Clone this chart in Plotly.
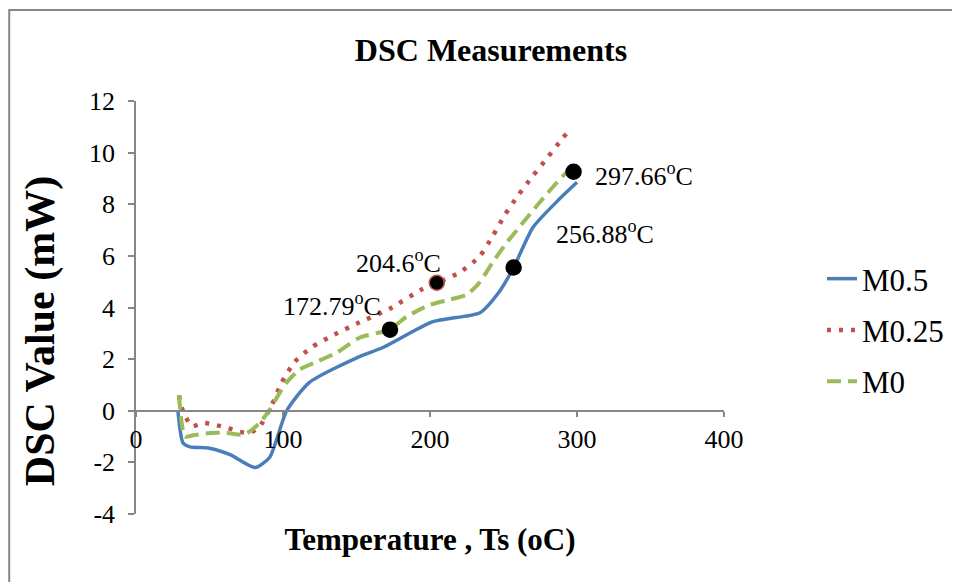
import plotly.graph_objects as go

# ---- data ----
m05_temp = [28.5, 32, 36.7, 50, 64, 81, 91, 102.5, 118, 152, 168, 202, 234, 247, 256.9, 270, 288, 300]
m05_dsc = [0.0, -1.25, -1.4, -1.45, -1.7, -2.2, -1.8, 0.0, 1.1, 2.1, 2.45, 3.45, 3.8, 4.6, 5.55, 7.1, 8.2, 8.85]

m025_temp = [29.2, 31.2, 38, 45.5, 53.7, 61.8, 69.3, 77.4, 84.2, 92.4, 99.2, 108, 120, 135, 150, 172.5,
             194, 205, 220, 233.6, 242.4, 250.6, 259.4, 269.6, 279.8, 290, 296]
m025_dsc = [0.6, 0.1, -0.6, -0.47, -0.55, -0.65, -0.8, -0.86, -0.6, 0.23, 1.1, 1.9, 2.48, 2.95, 3.37, 3.95,
            4.69, 4.96, 5.35, 5.97, 6.74, 7.56, 8.3, 9.07, 9.8, 10.54, 10.95]

m0_temp = [29.2, 33.3, 38.7, 50.3, 61.8, 72.7, 77.4, 84.2, 91, 97.8, 102.5, 111.4, 123, 136.5, 152, 172.5,
           184, 199.7, 213, 225, 233.6, 242.4, 252, 262, 274.4, 288, 299.5]
m0_dsc = [0.6, -1.0, -0.95, -0.86, -0.86, -0.93, -0.8, -0.47, 0.04, 0.7, 1.1, 1.6, 1.9, 2.25, 2.83, 3.15,
          3.64, 4.1, 4.3, 4.5, 4.96, 5.73, 6.5, 7.2, 8.06, 8.95, 9.6]

peak_temp = [172.79, 204.6, 256.88, 297.66]
peak_dsc = [3.14, 4.96, 5.55, 9.26]

x_ticks = [0, 100, 200, 300, 400]
y_ticks = [-4, -2, 0, 2, 4, 6, 8, 10, 12]
y_tick_text = ["-4", "-2", "0", "2", "4", "6", "8", "10", "12"]

FONT = "Liberation Serif"
AXIS_GRAY = "#868686"
OFF = 8  # page body margin offset

fig = go.Figure()

fig.add_trace(go.Scatter(x=m05_temp, y=m05_dsc, mode="lines", name="M0.5",
                         line=dict(color="#4A7EBB", width=3.5, shape="spline", smoothing=0.6),
                         legendgroup="a"))
fig.add_trace(go.Scatter(x=m025_temp, y=m025_dsc, mode="lines", name="M0.25",
                         line=dict(color="#C0504D", width=4.5, dash="4px,8px", shape="spline", smoothing=0.6),
                         legendgroup="b"))
fig.add_trace(go.Scatter(x=m0_temp, y=m0_dsc, mode="lines", name="M0",
                         line=dict(color="#9BBB59", width=4, dash="14px,7px", shape="spline", smoothing=0.6),
                         legendgroup="c"))
fig.add_trace(go.Scatter(x=peak_temp, y=peak_dsc, mode="markers", showlegend=False,
                         marker=dict(color="black", size=15,
                                     line=dict(color=["black", "#C0504D", "black", "black"], width=1.5))))

shifts = [(-58, 25), (-38, 21), (91, 35), (70, -3)]
for t, v, (dx, dy) in zip(peak_temp, peak_dsc, shifts):
    fig.add_annotation(x=t, y=v, text=f"{t}<sup>o</sup>C", showarrow=False,
                       xanchor="center", yanchor="middle",
                       xshift=dx, yshift=dy, font=dict(family=FONT, size=26, color="black"))

# y-axis title as rotated annotation
fig.add_annotation(xref="paper", yref="paper", x=(40 - 136) / 589, y=(514 - 331) / 413,
                   xanchor="center", yanchor="middle",
                   text="<b>DSC Value (mW)</b>", textangle=-90, showarrow=False,
                   font=dict(family=FONT, size=42, color="black"))

# outer chart border
fig.add_shape(type="rect", xref="paper", yref="paper",
              x0=(9 - 136) / 589, x1=(975 - 136) / 589,
              y0=(514 - 600) / 413, y1=(514 - 10) / 413,
              line=dict(color=AXIS_GRAY, width=2), fillcolor="rgba(0,0,0,0)", layer="below")

fig.update_layout(
    width=960 - OFF, height=582 - OFF,
    margin=dict(l=136 - OFF, r=235, t=101 - OFF, b=68),
    paper_bgcolor="white", plot_bgcolor="white",
    font=dict(family=FONT, color="black"),
    title=dict(text="<b>DSC Measurements</b>", x=(491 - OFF) / (960 - OFF), xref="container",
               xanchor="center", y=1 - (50 - OFF) / (582 - OFF), yref="container", yanchor="middle",
               font=dict(family=FONT, size=32, color="black")),
    xaxis=dict(range=[0, 400], tickvals=x_ticks, ticks="outside", ticklen=5, tickcolor=AXIS_GRAY,
               tickwidth=1.5, showline=True, linecolor=AXIS_GRAY, linewidth=1.5, showgrid=False,
               zeroline=False, anchor="free", position=0.25, automargin=False,
               tickfont=dict(family=FONT, size=26, color="black"), ticklabelstandoff=0,
               title=dict(text="<b>Temperature , Ts (oC)</b>", standoff=75,
                          font=dict(family=FONT, size=31, color="black"))),
    yaxis=dict(range=[-4, 12], tickvals=y_ticks, ticktext=y_tick_text, ticks="outside", ticklen=6,
               tickcolor=AXIS_GRAY, tickwidth=1.5, showline=True, linecolor=AXIS_GRAY, linewidth=1.5,
               showgrid=False, zeroline=False, automargin=False, ticklabelstandoff=8,
               tickfont=dict(family=FONT, size=26, color="black")),
    legend=dict(x=(822 - 136) / 589, xanchor="left", y=(514 - 330) / 413, yanchor="middle",
                traceorder="grouped", tracegroupgap=8, bgcolor="rgba(0,0,0,0)",
                font=dict(family=FONT, size=31, color="black")),
)

fig.write_html("out.html")
